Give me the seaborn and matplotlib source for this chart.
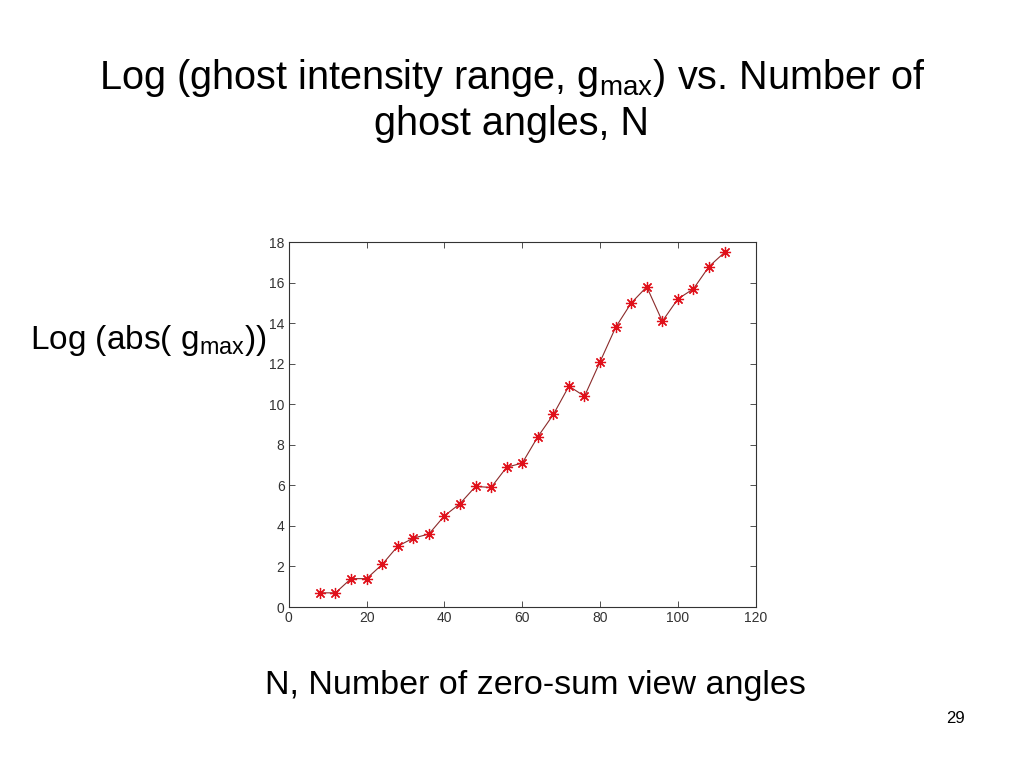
import numpy as np
import matplotlib
matplotlib.use("Agg")
import matplotlib.pyplot as plt
import seaborn as sns
import pandas as pd

# number of ghost angles and log of ghost intensity range
n_angles = [8, 12, 16, 20, 24, 28, 32, 36, 40, 44, 48, 52, 56, 60,
            64, 68, 72, 76, 80, 84, 88, 92, 96, 100, 104, 108, 112]
log_gmax = [0.7, 0.7, 1.4, 1.4, 2.1, 3.0, 3.4, 3.6, 4.5, 5.1, 5.95, 5.9, 6.9, 7.1,
            8.4, 9.5, 10.9, 10.4, 12.1, 13.8, 15.0, 15.8, 14.1, 15.2, 15.7, 16.8, 17.5]
xticks = [0, 20, 40, 60, 80, 100, 120]
yticks = [0, 2, 4, 6, 8, 10, 12, 14, 16, 18]

df = pd.DataFrame({"N": n_angles, "g": log_gmax})

sns.set_style("ticks")
plt.rcParams['font.family'] = ['Liberation Sans', 'DejaVu Sans']
plt.rcParams['mathtext.fontset'] = 'custom'
plt.rcParams['mathtext.rm'] = 'Liberation Sans'
plt.rcParams['mathtext.it'] = 'Liberation Sans:italic'
plt.rcParams['text.color'] = 'black'

fig = plt.figure(figsize=(10.24, 7.68), dpi=100)
ax = fig.add_axes([0.282, 0.2096, 0.456, 0.475])

sns.lineplot(data=df, x="N", y="g", ax=ax, color="#8b2a2a", linewidth=0.8,
             marker=(8, 2, 0), markersize=8,
             markeredgecolor="#e0101a", markeredgewidth=0.9)

ax.set_xlim(0, 120)
ax.set_ylim(0, 18)
ax.set_xticks(xticks)
ax.set_yticks(yticks)
ax.tick_params(direction="in", top=True, right=True, labelsize=10, length=4,
               width=0.6, colors="#333333", pad=3)
for s in ax.spines.values():
    s.set_linewidth(0.8)
    s.set_color("#333333")
ax.set_xlabel("")
ax.set_ylabel("")

fig.text(0.5, 0.899, r"Log (ghost intensity range, g$_{\mathrm{max}}$) vs. Number of",
         ha="center", va="center", fontsize=28.5)
fig.text(0.5, 0.838, "ghost angles, N", ha="center", va="center", fontsize=28.5)
fig.text(0.029, 0.557, r"Log (abs( g$_{\mathrm{max}}$))", ha="left", va="center",
         fontsize=24)
fig.text(0.523, 0.108, "N, Number of zero-sum view angles", ha="center",
         va="center", fontsize=24.5)
fig.text(0.933, 0.065, "29", ha="center", va="center", fontsize=12)

fig.savefig("out.png", dpi=100)
